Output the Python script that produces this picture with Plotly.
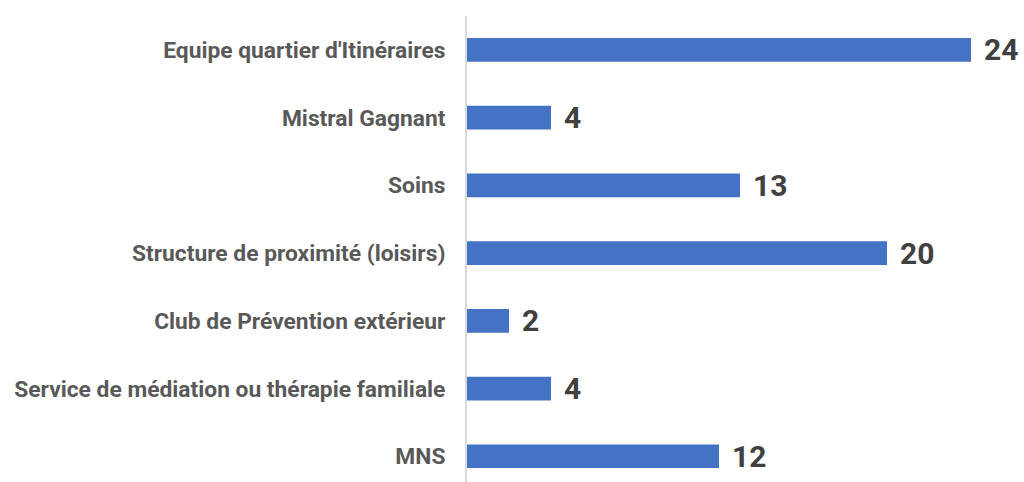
import plotly.graph_objects as go

categories = [
    "Equipe quartier d'Itinéraires",
    "Mistral Gagnant",
    "Soins",
    "Structure de proximité (loisirs)",
    "Club de Prévention extérieur",
    "Service de médiation ou thérapie familiale",
    "MNS",
]
values = [24, 4, 13, 20, 2, 4, 12]

fig = go.Figure()
fig.add_trace(go.Bar(
    x=values, y=categories, orientation="h",
    marker=dict(color="#4472C4", line=dict(width=0)),
    width=0.35,
    hoverinfo="x+y",
))
for c, v in zip(categories, values):
    fig.add_annotation(x=v, y=c, text=str(v), showarrow=False,
                       xanchor="left", xshift=11,
                       font=dict(family="Roboto", size=30, color="#404040", weight="bold"))

fig.update_layout(
    width=1024, height=482,
    margin=dict(l=467, r=11, t=16, b=0),
    paper_bgcolor="white", plot_bgcolor="white",
    showlegend=False,
    xaxis=dict(range=[0, 26], visible=False),
    yaxis=dict(
        categoryorder="array", categoryarray=categories,
        range=[6.38, -0.5],
        showline=True, linecolor="#D9D9D9", linewidth=2,
        showgrid=False, zeroline=False, ticks="",
        ticklabelstandoff=15,
        tickfont=dict(family="Roboto", size=22.8, color="#595959", weight="bold"),
    ),
)
fig.write_html(
    "out.html",
    config={"displayModeBar": False},
    post_script="document.body.style.margin='0';document.body.style.overflow='hidden';",
)
